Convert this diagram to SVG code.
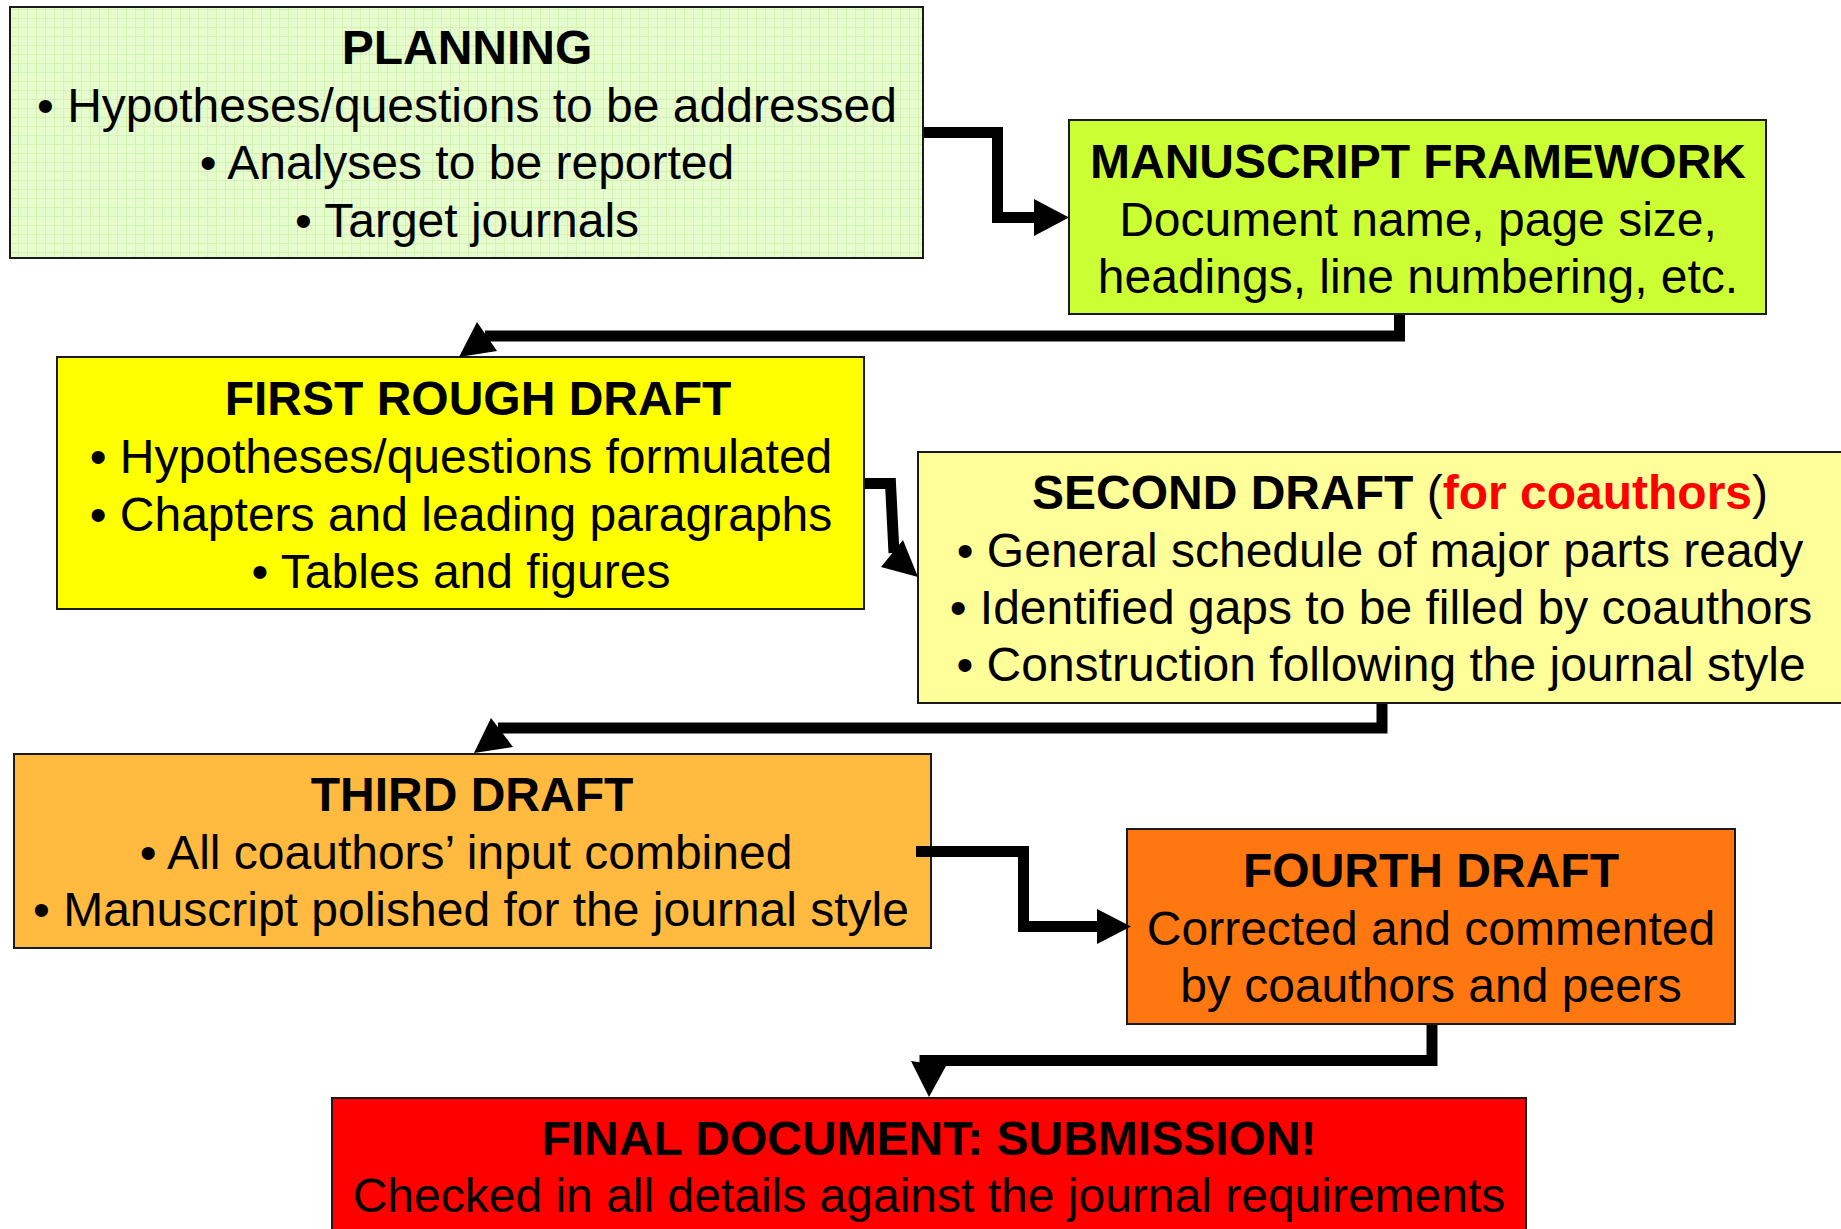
<svg xmlns="http://www.w3.org/2000/svg" width="1841" height="1229" viewBox="0 0 1841 1229">
<defs>
<pattern id="grid" width="9" height="9" patternUnits="userSpaceOnUse">
<rect width="9" height="9" fill="#E6FCCE"/>
<path d="M0 0.5H9M0.5 0V9" stroke="#D3F4B0" stroke-width="1"/>
</pattern>
</defs>
<style>
.box{stroke:#1a1a1a;stroke-width:2}
text{font-family:"Liberation Sans",Arial,Helvetica,sans-serif;font-size:48px;fill:#000;text-anchor:middle}
.t{font-weight:bold}
.red{fill:#FF0000;font-weight:bold}
.reg{font-weight:normal}
.conn path{fill:none;stroke:#000;stroke-width:11;stroke-linejoin:miter}
.conn polygon{fill:#000}
</style>
<rect width="1841" height="1229" fill="#FFFFFF"/>

<g id="planning">
<rect class="box" x="10" y="7" width="913" height="251" fill="url(#grid)"/>
<text class="t" x="467" y="64">PLANNING</text>
<text x="467" y="121.5">• Hypotheses/questions to be addressed</text>
<text x="467" y="179">• Analyses to be reported</text>
<text x="467" y="236.5">• Target journals</text>
</g>

<g id="manuscript-framework">
<rect class="box" x="1069" y="120" width="697" height="194" fill="#CCFF33"/>
<text class="t" x="1418" y="178">MANUSCRIPT FRAMEWORK</text>
<text x="1418" y="235.5">Document name, page size,</text>
<text x="1418" y="293">headings, line numbering, etc.</text>
</g>

<g id="first-rough-draft">
<rect class="box" x="57" y="357" width="807" height="252" fill="#FFFF00"/>
<text class="t" x="478" y="415">FIRST ROUGH DRAFT</text>
<text x="461" y="473">• Hypotheses/questions formulated</text>
<text x="461" y="530.5">• Chapters and leading paragraphs</text>
<text x="461" y="588">• Tables and figures</text>
</g>

<g id="second-draft">
<rect class="box" x="918" y="452" width="940" height="251" fill="#FFFF99"/>
<text class="t" x="1400" y="509">SECOND DRAFT <tspan class="reg">(</tspan><tspan class="red">for coauthors</tspan><tspan class="reg">)</tspan></text>
<text x="1380" y="567">• General schedule of major parts ready</text>
<text x="1381" y="624">• Identified gaps to be filled by coauthors</text>
<text x="1381" y="681">• Construction following the journal style</text>
</g>

<g id="third-draft">
<rect class="box" x="14" y="754" width="917" height="194" fill="#FFBA3F"/>
<text class="t" x="472" y="811">THIRD DRAFT</text>
<text x="466" y="868.5">• All coauthors’ input combined</text>
<text x="471" y="926">• Manuscript polished for the journal style</text>
</g>

<g id="fourth-draft">
<rect class="box" x="1127" y="829" width="608" height="195" fill="#FF7711"/>
<text class="t" x="1431" y="887">FOURTH DRAFT</text>
<text x="1431" y="944.5">Corrected and commented</text>
<text x="1431" y="1002">by coauthors and peers</text>
</g>

<g id="final-document">
<rect class="box" x="332" y="1098" width="1194" height="150" fill="#FF0000"/>
<text class="t" x="929" y="1155">FINAL DOCUMENT: SUBMISSION!</text>
<text x="929" y="1212">Checked in all details against the journal requirements</text>
</g>

<g id="connectors" class="conn">
<path d="M924,132.5 H997.5 V217.5 H1036"/>
<polygon points="1034,199 1069,217.5 1034,236"/>
<path d="M1399.5,315 V336 H485"/>
<polygon points="477,322 497,351 459,357"/>
<path d="M865,483.5 H890.5 L894,553"/>
<polygon points="881,567 903,540 918,577"/>
<path d="M1382,704 V728 H498"/>
<polygon points="491,718 513,747 474,753"/>
<path d="M916,851.5 H1023.5 V926.5 H1099"/>
<polygon points="1097,909 1131,926.5 1097,944"/>
<path d="M1432,1025 V1060.5 H925 V1064"/>
<polygon points="911,1061 946,1066 929,1097"/>
</g>
</svg>
